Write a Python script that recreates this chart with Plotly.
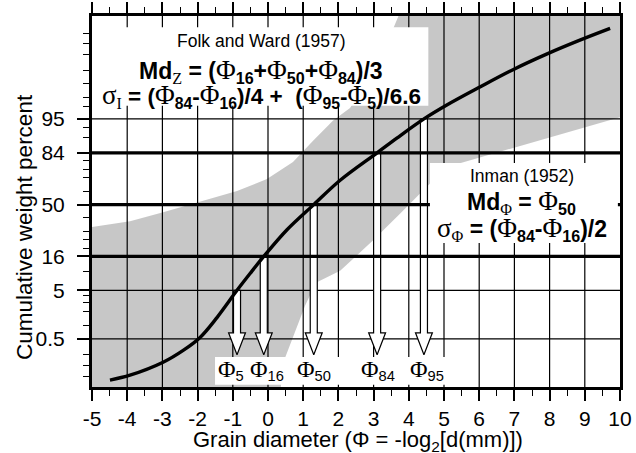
import plotly.graph_objects as go
from statistics import NormalDist

_nd = NormalDist()


def zq(p):
    """Percent -> standard normal quantile (probability-paper axis)."""
    return _nd.inv_cdf(p / 100.0)


# ---------------- data ----------------
curve_phi = [-4.49, -3.92, -2.98, -2.41, -1.93, -1.45, -0.88, -0.51, -0.12, 0.54, 1.30,
             2.05, 3.10, 3.66, 4.43, 5.08, 6.02, 6.96, 7.93, 8.86, 9.72]
curve_pct = [0.038, 0.053, 0.124, 0.257, 0.54, 1.51, 5.0, 9.3, 16.0, 31.5, 50.0,
             68.0, 84.0, 89.9, 95.0, 97.2, 98.8, 99.52, 99.809, 99.920, 99.964]

pct_levels = [5, 16, 50, 84, 95]
pct_phi = [-0.88, -0.12, 1.30, 3.10, 4.43]
pct_labels = ["5", "16", "50", "84", "95"]

env_upper_phi = [-5.0, -3.92, -2.98, -1.93, -0.88, -0.03, 0.71, 1.28, 1.85, 2.33, 3.18, 3.95, 10.0]
env_upper_pct = [33.3, 37.5, 44.2, 52.0, 60.3, 68.8, 79.4, 89.0, 94.7, 96.8, 99.72, 99.997, 99.997]
env_lower_phi = [10.0, 5.06, 3.75, 2.98, 2.05, 1.36, 1.05, 0.77, 0.48, 0.28, -5.0]
env_lower_pct = [95.3, 76.4, 43.0, 24.5, 10.2, 6.7, 2.6, 0.78, 0.16, 0.005, 0.005]

thick_levels = [16, 50, 84]
thin_levels = [0.5, 5, 95]

x_ticks = list(range(-5, 11))
x_tick_text = [str(v) for v in x_ticks]
y_tick_pct = [0.5, 5, 16, 50, 84, 95]
y_tick_text = ["0.5", "5", "16", "50", "84", "95"]
y_minor_pct = [0.02, 0.05, 0.1, 0.2, 1, 2, 3, 4, 10, 20, 25, 30, 40, 60, 70, 75, 80,
               90, 93, 97, 98, 99, 99.5, 99.8, 99.9, 99.95]

# ---------------- styles ----------------
SANS = "Liberation Sans, Arial, Helvetica, sans-serif"
SERIF = "Liberation Serif"
Y_RANGE = [-3.50, 3.62]
X_RANGE = [-5, 10]
SHAFT_HALF = 0.10      # phi units
HEAD_HALF = 0.24
HEAD_TOP_Z = -2.46
TIP_Z = -2.88
label_shift = [-6, 3, 0, 1, 3]


def PHI(size=None):
    st = "font-family:%s;font-weight:normal" % SERIF
    if size:
        st += ";font-size:%spx" % size
    return '<span style="%s">Φ</span>' % st


def SIG(size=None):
    st = "font-family:%s;font-weight:normal" % SERIF
    if size:
        st += ";font-size:%spx" % size
    return '<span style="%s">σ</span>' % st


def SER(t):
    return '<span style="font-family:%s;font-weight:normal">%s</span>' % (SERIF, t)


fig = go.Figure()

# thin grid lines (drawn first, shading goes over them)
gx, gy = [], []
for v in x_ticks[1:-1]:
    gx += [v, v, None]
    gy += [Y_RANGE[0], Y_RANGE[1], None]
for p in thin_levels:
    gx += [X_RANGE[0], X_RANGE[1], None]
    gy += [zq(p), zq(p), None]
fig.add_trace(go.Scatter(x=gx, y=gy, mode="lines", line=dict(color="black", width=1.2),
                         connectgaps=False, hoverinfo="skip", showlegend=False))

# grey envelope
poly_x = env_upper_phi + env_lower_phi
poly_y = [zq(p) for p in env_upper_pct] + [zq(p) for p in env_lower_pct]
fig.add_trace(go.Scatter(x=poly_x, y=poly_y, mode="lines", fill="toself",
                         fillcolor="rgba(0,0,0,0.22)", line=dict(width=0),
                         hoverinfo="skip", showlegend=False))

# hollow arrows
ax, ay = [], []
for ph, p in zip(pct_phi, pct_levels):
    zt = zq(p)
    ax += [ph - SHAFT_HALF, ph - SHAFT_HALF, ph - HEAD_HALF, ph, ph + HEAD_HALF,
           ph + SHAFT_HALF, ph + SHAFT_HALF, ph - SHAFT_HALF, None]
    ay += [zt, HEAD_TOP_Z, HEAD_TOP_Z, TIP_Z, HEAD_TOP_Z, HEAD_TOP_Z, zt, zt, None]
fig.add_trace(go.Scatter(x=ax, y=ay, mode="lines", fill="toself", fillcolor="white",
                         line=dict(color="black", width=1.2), connectgaps=False,
                         hoverinfo="skip", showlegend=False))

# thick percentile lines
for p in thick_levels:
    fig.add_trace(go.Scatter(x=X_RANGE, y=[zq(p), zq(p)], mode="lines",
                             line=dict(color="black", width=3.2),
                             hoverinfo="skip", showlegend=False))

# cumulative curve
fig.add_trace(go.Scatter(x=curve_phi, y=[zq(p) for p in curve_pct], mode="lines",
                         line=dict(color="black", width=3.4, shape="spline", smoothing=1.0),
                         hoverinfo="skip", showlegend=False))

# white text boxes (above the grid and shading)
for x0, x1, y0, y1 in [(0.004, 0.637, 0.758, 0.970),
                       (0.640, 0.996, 0.388, 0.604),
                       (0.233, 0.682, 0.006, 0.081)]:
    fig.add_shape(type="rect", xref="paper", yref="paper", x0=x0, x1=x1, y0=y0, y1=y1,
                  fillcolor="white", line=dict(width=0), layer="above")

BIG = 27
ann = []
# Folk and Ward
ann.append(dict(x=0.321, y=0.933, text="Folk and Ward (1957)", font=dict(size=17.5)))
ann.append(dict(x=0.321, y=0.853,
                text="<b>Md<sub>" + SER("Z") + "</sub> = (" + PHI(BIG) + "<sub>16</sub>+" + PHI(BIG)
                     + "<sub>50</sub>+" + PHI(BIG) + "<sub>84</sub>)/3</b>",
                font=dict(size=23)))
ann.append(dict(x=0.321, y=0.785,
                text="<b>" + SIG(BIG) + "<sub>" + SER("I") + "</sub> = (" + PHI(BIG) + "<sub>84</sub>-"
                     + PHI(BIG) + "<sub>16</sub>)/4 +  (" + PHI(BIG) + "<sub>95</sub>-" + PHI(BIG)
                     + "<sub>5</sub>)/6.6</b>",
                font=dict(size=22.5)))
# Inman
ann.append(dict(x=0.814, y=0.569, text="Inman (1952)", font=dict(size=17.5)))
ann.append(dict(x=0.814, y=0.499,
                text="<b>Md<sub>" + PHI() + "</sub> = " + PHI(BIG) + "<sub>50</sub></b>",
                font=dict(size=23)))
ann.append(dict(x=0.814, y=0.426,
                text="<b>" + SIG(BIG) + "<sub>" + PHI() + "</sub> = (" + PHI(BIG) + "<sub>84</sub>-"
                     + PHI(BIG) + "<sub>16</sub>)/2</b>",
                font=dict(size=23)))
for a in ann:
    a.update(xref="paper", yref="paper", showarrow=False, xanchor="center", yanchor="middle")
    a["font"].update(family=SANS, color="black")

# percentile labels under the arrows
for ph, lab, sh in zip(pct_phi, pct_labels, label_shift):
    ann.append(dict(x=ph, y=0.046, xref="x", yref="paper", xshift=sh, showarrow=False,
                    xanchor="center", yanchor="middle",
                    text=PHI(24) + "<sub>" + lab + "</sub>",
                    font=dict(family=SANS, size=21, color="black")))

# axis titles
ann.append(dict(x=0.504, y=-0.145, xref="paper", yref="paper", showarrow=False,
                xanchor="center", yanchor="middle",
                text="Grain diameter (Φ = -log<sub>2</sub>[d(mm)])",
                font=dict(family=SANS, size=22, color="black")))
ann.append(dict(x=-0.129, y=0.431, xref="paper", yref="paper", showarrow=False,
                xanchor="center", yanchor="middle", textangle=-90,
                text="Cumulative weight percent",
                font=dict(family=SANS, size=22.5, color="black")))

fig.update_layout(
    width=636, height=453,
    margin=dict(l=92, r=16, t=16, b=66, autoexpand=False),
    paper_bgcolor="white", plot_bgcolor="white",
    showlegend=False,
    annotations=ann,
    font=dict(family=SANS, color="black"),
)

fig.update_xaxes(
    range=X_RANGE, tickmode="array", tickvals=x_ticks, ticktext=x_tick_text,
    ticks="outside", ticklen=11, tickwidth=1.5, tickcolor="black",
    tickfont=dict(family=SANS, size=21, color="black"),
    showgrid=False, automargin=False,
    showline=True, linecolor="black", linewidth=3, mirror="allticks",
    zeroline=False,
    minor=dict(dtick=0.5, tick0=-5, ticks="outside", ticklen=6, tickwidth=1.2,
               tickcolor="black", showgrid=False),
)
fig.update_yaxes(
    range=Y_RANGE, tickmode="array", tickvals=[zq(p) for p in y_tick_pct],
    ticktext=y_tick_text,
    ticks="outside", ticklen=12, tickwidth=1.5, tickcolor="black",
    tickfont=dict(family=SANS, size=21, color="black"), ticklabelstandoff=8,
    showgrid=False, automargin=False,
    showline=True, linecolor="black", linewidth=3, mirror=True,
    zeroline=False,
    minor=dict(tickmode="array", tickvals=[zq(p) for p in y_minor_pct], ticks="outside",
               ticklen=6, tickwidth=1.2, tickcolor="black", showgrid=False),
)

fig.write_html("out.html", config={"displayModeBar": False},
               post_script="document.body.style.margin='0';document.body.style.padding='0';")
